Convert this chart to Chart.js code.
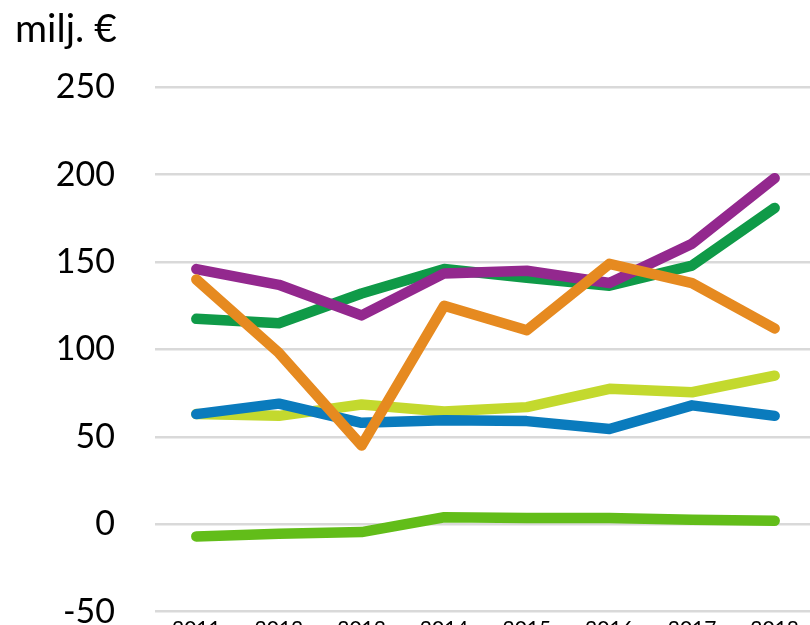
<!DOCTYPE html>
<html>
<head>
<meta charset="utf-8">
<script src="https://cdn.jsdelivr.net/npm/chart.js@4/dist/chart.umd.min.js"></script>
<style>
  html, body { margin: 0; padding: 0; background: #ffffff; overflow: hidden; }
  #wrap { position: absolute; left: 0; top: 0; width: 816px; height: 672px; }
</style>
</head>
<body>
<div id="wrap"><canvas id="c"></canvas></div>
<script>
const categories = ['2011', '2012', '2013', '2014', '2015', '2016', '2017', '2018'];
const unitLabel = 'milj. €';
const yTicks = [-50, 0, 50, 100, 150, 200, 250];

const orangeSeries      = [140, 98, 45, 125, 111, 149, 138, 112];
const purpleSeries      = [146, 137, 119.5, 143.5, 145, 138, 160.5, 198];
const darkGreenSeries   = [117.5, 115, 132, 146, 141, 136.5, 148, 181];
const blueSeries        = [63, 69, 58, 59.5, 59, 54.5, 68, 62];
const limeSeries        = [63, 62, 68.5, 64.5, 67, 77.5, 75.5, 85];
const brightGreenSeries = [-7, -5.5, -4.5, 4, 3.5, 3.5, 2.5, 2];

function ds(data, color) {
  return {
    data: data,
    borderColor: color,
    backgroundColor: color,
    borderWidth: 10.5,
    borderCapStyle: 'round',
    borderJoinStyle: 'round',
    pointRadius: 0,
    pointHoverRadius: 0,
    tension: 0,
    fill: false
  };
}

new Chart(document.getElementById('c'), {
  type: 'line',
  data: {
    labels: categories,
    datasets: [
      ds(orangeSeries, '#E68A20'),
      ds(purpleSeries, '#93288E'),
      ds(darkGreenSeries, '#0F9A48'),
      ds(blueSeries, '#0A7BBD'),
      ds(limeSeries, '#C3D92E'),
      ds(brightGreenSeries, '#62BD19')
    ]
  },
  options: {
    responsive: true,
    maintainAspectRatio: false,
    animation: false,
    events: [],
    layout: { padding: { left: 15, right: 0, top: 0, bottom: 0 } },
    plugins: {
      legend: { display: false },
      tooltip: { enabled: false },
      title: {
        display: true,
        text: unitLabel,
        align: 'start',
        color: '#000000',
        font: { family: 'Lato, "Open Sans", sans-serif', size: 39, weight: 'normal', lineHeight: 1.2 },
        padding: { top: 6, bottom: 34.5 }
      }
    },
    scales: {
      x: {
        offset: true,
        grid: { display: false, drawTicks: false },
        border: { display: false },
        ticks: {
          color: '#000000',
          padding: 5,
          maxRotation: 0,
          autoSkip: false,
          font: { family: 'Lato, "Open Sans", sans-serif', size: 21 }
        }
      },
      y: {
        min: -50,
        max: 250,
        afterFit: function (scale) { scale.width = 140; },
        afterBuildTicks: function (scale) { scale.ticks = yTicks.map(v => ({ value: v })); },
        grid: { color: '#D9D9D9', lineWidth: 2.5, drawTicks: false },
        border: { display: false },
        ticks: {
          color: '#000000',
          padding: 40,
          font: { family: 'Lato, "Open Sans", sans-serif', size: 34 }
        }
      }
    }
  }
});
</script>
</body>
</html>
